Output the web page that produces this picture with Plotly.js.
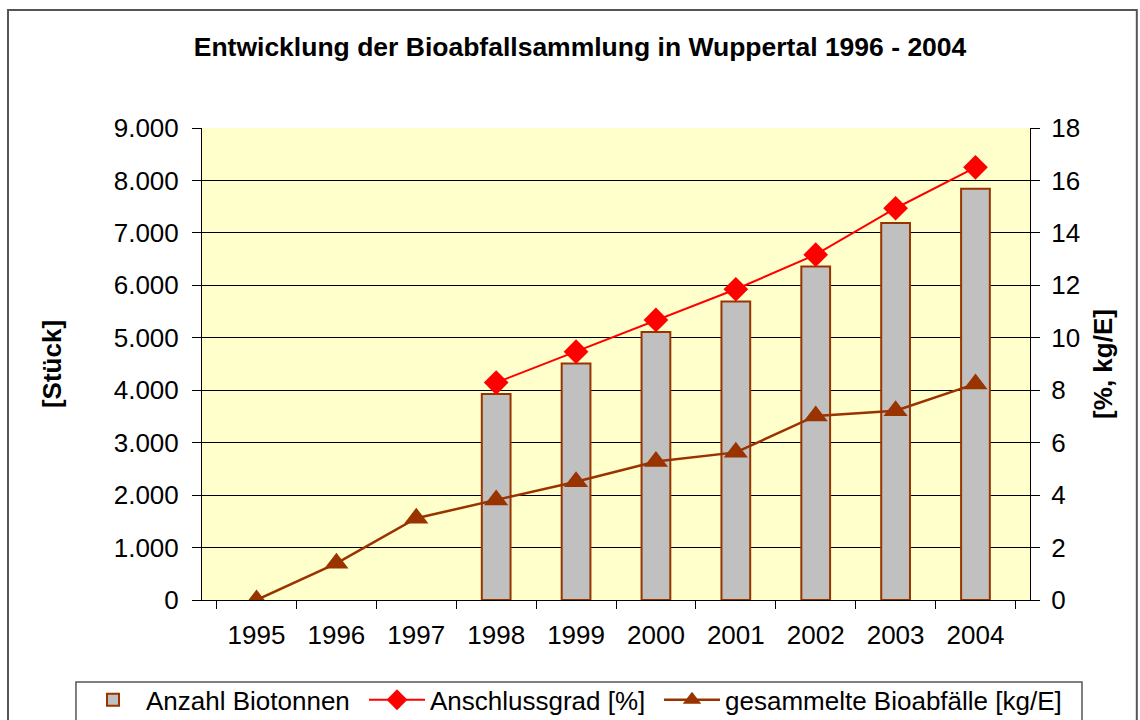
<!DOCTYPE html>
<html>
<head>
<meta charset="utf-8">
<script src="https://cdn.plot.ly/plotly-3.0.1.min.js"></script>
<style>html,body{margin:0;padding:0;background:#fff;}#chart{width:1140px;height:720px;}</style>
</head>
<body>
<div id="chart"></div>
<script>
const years = ["1995","1996","1997","1998","1999","2000","2001","2002","2003","2004"];
const biotonnen = [null, null, null, 3930, 4510, 5110, 5690, 6360, 7190, 7840];
const anschlussgrad = [null, null, null, 8.29, 9.47, 10.68, 11.85, 13.17, 14.94, 16.5];
const bioabfaelle = [0, 1.40, 3.12, 3.81, 4.51, 5.28, 5.63, 7.02, 7.22, 8.24];
const leftTicks = [0,1000,2000,3000,4000,5000,6000,7000,8000,9000];
const rightTicks = [0,2,4,6,8,10,12,14,16,18];

const FONT = "Liberation Sans, Arial, sans-serif";
const brown = "#993300";

const traces = [
  {type:"bar", name:"Anzahl Biotonnen", x:years, y:biotonnen, yaxis:"y", legend:"legend",
   width:0.36, marker:{color:"#C0C0C0", line:{color:brown, width:2}}},
  {type:"scatter", mode:"lines+markers", name:"Anschlussgrad [%]", x:years, y:anschlussgrad, yaxis:"y2", legend:"legend2",
   line:{color:"#FF0000", width:2}, marker:{symbol:"diamond", size:19, color:"#FF0000"}},
  {type:"scatter", mode:"lines+markers", name:"gesammelte Bioabfälle [kg/E]", x:years, y:bioabfaelle, yaxis:"y2", legend:"legend3",
   line:{color:brown, width:2.5}, marker:{symbol:"triangle-up", size:21, color:brown}}
];

function leg(px) {
  return {orientation:"h", xref:"container", x:px/1140, xanchor:"left", yref:"container", y:0.028, yanchor:"middle",
          bgcolor:"rgba(0,0,0,0)", borderwidth:0, itemwidth:56,
          font:{family:FONT, size:26, color:"#000"}};
}

const layout = {
  width:1140, height:720,
  paper_bgcolor:"#FFFFFF", plot_bgcolor:"#FFFFCC",
  separators:",.",
  margin:{l:202, r:110, t:128, b:120, pad:0},
  font:{family:FONT, size:26, color:"#000"},
  title:{text:"<b>Entwicklung der Bioabfallsammlung in Wuppertal 1996 - 2004</b>",
         font:{family:FONT, size:26.5, color:"#000"}, xref:"container", x:0.5088, xanchor:"center",
         yref:"container", y:0.935, yanchor:"middle"},
  showlegend:true,
  legend:leg(80),
  legend2:leg(364),
  legend3:leg(659),
  xaxis:{type:"category", categoryarray:years, showgrid:false, showline:true, linecolor:"#000", linewidth:1,
         ticks:"outside", ticklen:8, tickcolor:"#000", tickson:"boundaries", ticklabelstandoff:12,
         tickfont:{family:FONT, size:26}, mirror:false, zeroline:false, automargin:false},
  yaxis:{range:[0,9000], tickvals:leftTicks, tickformat:",d", showgrid:true, gridcolor:"#000", gridwidth:1,
         showline:true, linecolor:"#000", linewidth:1, ticks:"outside", ticklen:9, tickcolor:"#000",
         ticklabelstandoff:8, tickfont:{family:FONT, size:26}, zeroline:false, automargin:false,
         title:{text:"<b>[Stück]</b>", font:{family:FONT, size:26}, standoff:44}},
  yaxis2:{range:[0,18], tickvals:rightTicks, overlaying:"y", side:"right", showgrid:false,
          showline:true, linecolor:"#000", linewidth:1, ticks:"outside", ticklen:9, tickcolor:"#000",
          ticklabelstandoff:6, tickfont:{family:FONT, size:26}, zeroline:false, automargin:false,
          title:{text:"<b>[%, kg/E]</b>", font:{family:FONT, size:26}, standoff:14}},
  shapes:[
    {type:"rect", xref:"paper", yref:"paper", x0:-0.2343, x1:1.129, y0:-0.4, y1:1.25,
     line:{color:"#555", width:2}, fillcolor:"rgba(0,0,0,0)", layer:"below"},
    {type:"rect", xref:"paper", yref:"paper", x0:-0.1522, x1:1.0628, y0:-0.3, y1:-0.1737,
     line:{color:"#555", width:1.5}, fillcolor:"#FFFFFF", layer:"below"}
  ]
};

Plotly.newPlot("chart", traces, layout, {displayModeBar:false, staticPlot:true});
</script>
</body>
</html>
